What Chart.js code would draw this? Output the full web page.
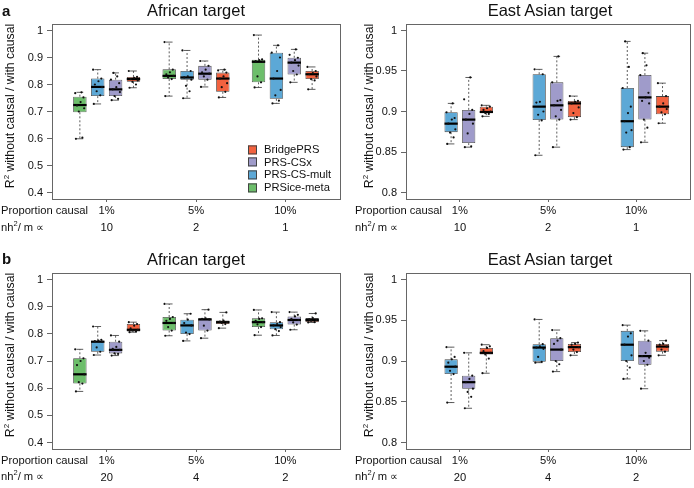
<!DOCTYPE html>
<html>
<head>
<meta charset="utf-8">
<script src="https://cdn.jsdelivr.net/npm/chart.js@4.4.1/dist/chart.umd.min.js"></script>
<style>
  body { margin: 0; background: #fff; font-family: "Liberation Sans", Arial, sans-serif; color: #111; }
  #fig { position: relative; width: 694px; height: 488px; overflow: hidden; }
  .pane { position: absolute; }
  .txt { position: absolute; white-space: nowrap; line-height: 1; }
  .mid { transform: translate(-50%, -50%); }
  .lft { transform: translateY(-50%); }
  .rot { transform: translate(-50%, -50%) rotate(-90deg); font-size: 12.2px; }
  .rot sup { font-size: 8px; vertical-align: 5px; line-height: 0; }
  .title { font-size: 16.5px; }
  .tag { font-size: 15px; font-weight: bold; }
  .row { font-size: 11.2px; }
  .row sup { font-size: 7.5px; vertical-align: 5px; line-height: 0; }
  .key { position: absolute; font-size: 11.2px; line-height: 1; white-space: nowrap; transform: translateY(-50%); }
  .key i { display: inline-block; width: 7px; height: 7px; border: 0.8px solid #444; margin-right: 7px; vertical-align: -0.5px; }
</style>
</head>
<body>
<div id="fig">
  <div class="pane" style="left:0;top:0"><canvas id="aAfr" width="345" height="240"></canvas></div>
  <div class="pane" style="left:345px;top:0"><canvas id="aEas" width="349" height="240"></canvas></div>
  <div class="pane" style="left:0;top:240px"><canvas id="bAfr" width="345" height="248"></canvas></div>
  <div class="pane" style="left:345px;top:240px"><canvas id="bEas" width="349" height="248"></canvas></div>

  <div class="txt tag lft" style="left:2px;top:10px">a</div>
  <div class="txt tag lft" style="left:2px;top:258px">b</div>
  <div class="txt title mid" style="left:196px;top:10px">African target</div>
  <div class="txt title mid" style="left:550px;top:10px">East Asian target</div>
  <div class="txt title mid" style="left:196px;top:259px">African target</div>
  <div class="txt title mid" style="left:550px;top:259px">East Asian target</div>

  <div class="txt rot" style="left:10px;top:106px">R<sup>2</sup> without causal / with causal</div>
  <div class="txt rot" style="left:369px;top:106px">R<sup>2</sup> without causal / with causal</div>
  <div class="txt rot" style="left:10px;top:355px">R<sup>2</sup> without causal / with causal</div>
  <div class="txt rot" style="left:369px;top:355px">R<sup>2</sup> without causal / with causal</div>

  <div class="txt row lft" style="left:1px;top:211px">Proportion causal</div>
  <div class="txt row lft" style="left:1px;top:228px">nh<sup>2</sup>/ m ∝</div>
  <div class="txt row lft" style="left:355px;top:211px">Proportion causal</div>
  <div class="txt row lft" style="left:355px;top:228px">nh<sup>2</sup>/ m ∝</div>
  <div class="txt row lft" style="left:1px;top:461px">Proportion causal</div>
  <div class="txt row lft" style="left:1px;top:477px">nh<sup>2</sup>/ m ∝</div>
  <div class="txt row lft" style="left:355px;top:461px">Proportion causal</div>
  <div class="txt row lft" style="left:355px;top:477px">nh<sup>2</sup>/ m ∝</div>

  <div id="legend"></div>
</div>

<script>
const methods = ['PRSice-meta', 'PRS-CS-mult', 'PRS-CSx', 'BridgePRS'];
const methodColors = ['#6dbe6b', '#5ca8d6', '#9f9bca', '#f2623f'];
const causalLabels = ['1%', '5%', '10%'];
const nhA = ['10', '2', '1'];
const nhB = ['20', '4', '2'];
const groupStart = [0, 5, 10];
const groupCentre = [2.5, 7.5, 12.5];
const afrTicks = [0.4, 0.5, 0.6, 0.7, 0.8, 0.9, 1];
const easTicks = [0.8, 0.85, 0.9, 0.95, 1];
const jitter = [-0.22, 0.14, -0.06, 0.24, -0.16, 0.04, 0.2, -0.26, 0.09, -0.12];

// box stats per method, per causal proportion: [lower whisker, q1, median, q3, upper whisker]
const aAfrStats = [
  [[0.599, 0.697, 0.724, 0.755, 0.771], [0.757, 0.820, 0.832, 0.856, 0.957], [0.789, 0.808, 0.884, 0.892, 0.983]],
  [[0.728, 0.757, 0.791, 0.822, 0.855], [0.749, 0.818, 0.826, 0.850, 0.926], [0.730, 0.747, 0.822, 0.918, 0.945]],
  [[0.742, 0.757, 0.782, 0.818, 0.843], [0.791, 0.818, 0.840, 0.869, 0.887], [0.808, 0.837, 0.881, 0.899, 0.930]],
  [[0.788, 0.810, 0.820, 0.828, 0.850], [0.752, 0.773, 0.822, 0.844, 0.855], [0.782, 0.820, 0.838, 0.850, 0.865]]
];
const aEasStats = [
  [[0.860, 0.8745, 0.885, 0.899, 0.910], [0.846, 0.8896, 0.906, 0.946, 0.952], [0.853, 0.856, 0.888, 0.929, 0.9865]],
  [[0.856, 0.861, 0.890, 0.902, 0.942], [0.856, 0.890, 0.9076, 0.936, 0.968], [0.862, 0.890, 0.9174, 0.945, 0.972]],
  [[0.894, 0.898, 0.8994, 0.906, 0.9076], [0.890, 0.893, 0.910, 0.913, 0.919], [0.8855, 0.8966, 0.906, 0.919, 0.935]]
];
const bAfrStats = [
  [[0.588, 0.617, 0.651, 0.710, 0.743], [0.793, 0.812, 0.840, 0.862, 0.910], [0.795, 0.825, 0.843, 0.857, 0.888]],
  [[0.722, 0.734, 0.771, 0.775, 0.827], [0.774, 0.799, 0.831, 0.852, 0.874], [0.794, 0.817, 0.831, 0.843, 0.880]],
  [[0.720, 0.728, 0.741, 0.771, 0.794], [0.784, 0.812, 0.853, 0.857, 0.889], [0.815, 0.834, 0.851, 0.864, 0.880]],
  [[0.806, 0.809, 0.815, 0.836, 0.843], [0.821, 0.836, 0.843, 0.849, 0.879], [0.842, 0.843, 0.851, 0.858, 0.875]]
];
const bEasStats = [
  [[0.849, 0.884, 0.893, 0.902, 0.917], [0.898, 0.899, 0.9165, 0.9206, 0.951], [0.878, 0.900, 0.920, 0.937, 0.944]],
  [[0.842, 0.866, 0.874, 0.882, 0.910], [0.887, 0.900, 0.914, 0.928, 0.938], [0.866, 0.8954, 0.906, 0.925, 0.937]],
  [[0.885, 0.908, 0.910, 0.916, 0.920], [0.907, 0.911, 0.917, 0.921, 0.9226], [0.907, 0.9115, 0.9177, 0.921, 0.925]]
];

// individual replicate values (jittered dots)
const aAfrPoints = [
  [[0.599, 0.603, 0.700, 0.712, 0.722, 0.735, 0.752, 0.768, 0.771], [0.757, 0.820, 0.826, 0.832, 0.838, 0.845, 0.855, 0.957], [0.789, 0.808, 0.830, 0.884, 0.887, 0.890, 0.893, 0.983]],
  [[0.728, 0.760, 0.775, 0.790, 0.800, 0.812, 0.822, 0.855], [0.749, 0.775, 0.795, 0.818, 0.826, 0.830, 0.850, 0.926], [0.730, 0.740, 0.760, 0.780, 0.822, 0.850, 0.900, 0.918, 0.945]],
  [[0.742, 0.747, 0.757, 0.772, 0.782, 0.790, 0.805, 0.818, 0.830, 0.843], [0.791, 0.818, 0.830, 0.840, 0.845, 0.855, 0.869, 0.887], [0.808, 0.837, 0.850, 0.870, 0.881, 0.890, 0.899, 0.910, 0.930]],
  [[0.788, 0.800, 0.810, 0.815, 0.820, 0.825, 0.828, 0.850], [0.752, 0.773, 0.790, 0.805, 0.822, 0.830, 0.844, 0.852, 0.855], [0.782, 0.815, 0.820, 0.830, 0.838, 0.842, 0.850, 0.865]]
];
const aEasPoints = [
  [[0.860, 0.868, 0.874, 0.878, 0.885, 0.890, 0.892, 0.899, 0.910], [0.846, 0.889, 0.896, 0.900, 0.911, 0.912, 0.946, 0.952], [0.853, 0.856, 0.874, 0.877, 0.888, 0.898, 0.906, 0.929, 0.955, 0.9865]],
  [[0.856, 0.857, 0.873, 0.885, 0.890, 0.897, 0.902, 0.915, 0.942], [0.856, 0.890, 0.894, 0.902, 0.9076, 0.913, 0.914, 0.936, 0.968], [0.862, 0.880, 0.890, 0.910, 0.913, 0.9174, 0.923, 0.945, 0.957, 0.972]],
  [[0.894, 0.897, 0.898, 0.900, 0.902, 0.904, 0.906, 0.9076], [0.890, 0.893, 0.898, 0.905, 0.910, 0.912, 0.913, 0.919], [0.8855, 0.8966, 0.899, 0.903, 0.906, 0.910, 0.919, 0.935]]
];
const bAfrPoints = [
  [[0.588, 0.617, 0.622, 0.651, 0.685, 0.700, 0.710, 0.743], [0.793, 0.812, 0.825, 0.840, 0.848, 0.855, 0.862, 0.910], [0.795, 0.825, 0.835, 0.843, 0.848, 0.855, 0.857, 0.888]],
  [[0.722, 0.734, 0.750, 0.771, 0.773, 0.775, 0.778, 0.827], [0.774, 0.799, 0.805, 0.831, 0.840, 0.852, 0.874], [0.794, 0.810, 0.817, 0.825, 0.831, 0.836, 0.843, 0.880]],
  [[0.720, 0.726, 0.728, 0.741, 0.745, 0.752, 0.771, 0.794], [0.784, 0.812, 0.830, 0.853, 0.855, 0.857, 0.889], [0.815, 0.834, 0.842, 0.851, 0.855, 0.864, 0.870, 0.880]],
  [[0.806, 0.809, 0.812, 0.815, 0.820, 0.830, 0.836, 0.843], [0.821, 0.836, 0.840, 0.843, 0.845, 0.849, 0.879], [0.842, 0.843, 0.848, 0.851, 0.853, 0.858, 0.875]]
];
const bEasPoints = [
  [[0.849, 0.884, 0.888, 0.893, 0.898, 0.902, 0.905, 0.917], [0.898, 0.899, 0.905, 0.915, 0.9165, 0.918, 0.9206, 0.951], [0.878, 0.892, 0.900, 0.907, 0.920, 0.930, 0.934, 0.944]],
  [[0.842, 0.856, 0.862, 0.866, 0.874, 0.878, 0.882, 0.910], [0.887, 0.896, 0.900, 0.914, 0.921, 0.925, 0.928, 0.938], [0.866, 0.8954, 0.900, 0.904, 0.906, 0.910, 0.925, 0.937]],
  [[0.885, 0.903, 0.908, 0.910, 0.912, 0.916, 0.918, 0.920], [0.907, 0.911, 0.914, 0.917, 0.920, 0.921, 0.9226], [0.907, 0.9115, 0.914, 0.9177, 0.920, 0.921, 0.925]]
];

const FONT = '"Liberation Sans", Arial, sans-serif';

// frame round the plotting region, like R's box()
const frame = {
  id: 'frame',
  beforeDatasetsDraw(chart) {
    const a = chart.chartArea, ctx = chart.ctx;
    ctx.save();
    ctx.strokeStyle = '#666';
    ctx.lineWidth = 1;
    ctx.strokeRect(Math.round(a.left) + 0.5, Math.round(a.top) + 0.5, Math.round(a.width), Math.round(a.height));
    ctx.restore();
  }
};

// whiskers, staples and medians on top of each floating bar
const boxWhiskers = {
  id: 'boxWhiskers',
  afterDatasetDraw(chart, args) {
    const ds = chart.data.datasets[args.index];
    if (!ds.stats) return;
    const ctx = chart.ctx, y = chart.scales.y;
    ctx.save();
    args.meta.data.forEach((bar, i) => {
      const [lo, q1, med, q3, hi] = ds.stats[i];
      const cx = bar.x, half = bar.width / 2;
      ctx.strokeStyle = '#333';
      ctx.lineWidth = 0.8;
      ctx.setLineDash([2, 2]);
      ctx.beginPath();
      ctx.moveTo(cx, y.getPixelForValue(q3)); ctx.lineTo(cx, y.getPixelForValue(hi));
      ctx.moveTo(cx, y.getPixelForValue(q1)); ctx.lineTo(cx, y.getPixelForValue(lo));
      ctx.stroke();
      ctx.setLineDash([]);
      ctx.beginPath();
      [lo, hi].forEach(v => {
        const py = y.getPixelForValue(v);
        ctx.moveTo(cx - half / 2, py); ctx.lineTo(cx + half / 2, py);
      });
      ctx.stroke();
      ctx.strokeStyle = '#000';
      ctx.lineWidth = 2.2;
      ctx.beginPath();
      const pm = y.getPixelForValue(med);
      ctx.moveTo(cx - half, pm); ctx.lineTo(cx + half, pm);
      ctx.stroke();
    });
    ctx.restore();
  }
};

function drawPanel(id, cfg) {
  const datasets = [];
  cfg.methodIdx.forEach((m, k) => {
    datasets.push({
      type: 'bar',
      label: methods[m],
      order: 1,
      data: cfg.stats[k].map((s, g) => ({ x: groupStart[g] + m + 1, y: [s[1], s[3]] })),
      stats: cfg.stats[k],
      backgroundColor: methodColors[m],
      borderColor: '#444',
      borderWidth: 0.8,
      borderSkipped: false,
      grouped: false,
      barPercentage: 0.75,
      categoryPercentage: 1
    });
  });
  const pts = [];
  cfg.methodIdx.forEach((m, k) => {
    cfg.points[k].forEach((vals, g) => {
      vals.forEach((v, j) => pts.push({ x: groupStart[g] + m + 1 + jitter[j % jitter.length], y: v }));
    });
  });
  datasets.push({
    type: 'scatter', order: 0, data: pts,
    pointRadius: 1.1, pointBackgroundColor: '#111', pointBorderWidth: 0
  });

  new Chart(document.getElementById(id), {
    data: { datasets },
    plugins: [frame, boxWhiskers],
    options: {
      responsive: false,
      animation: false,
      devicePixelRatio: 1,
      layout: { padding: { top: cfg.padTop, right: cfg.padRight, left: cfg.padLeft, bottom: 0 } },
      plugins: { legend: { display: false }, tooltip: { enabled: false } },
      scales: {
        x: {
          type: 'linear', min: -0.56, max: 15.56, offset: false,
          border: { display: false },
          grid: { offset: false, drawOnChartArea: false, drawTicks: true, tickLength: 3, color: '#666' },
          afterBuildTicks: s => { s.ticks = groupCentre.map(v => ({ value: v })); },
          ticks: {
            autoSkip: false, maxRotation: 0, padding: 0, color: '#111',
            font: { family: FONT, size: 11.2, lineHeight: '17px' },
            callback: (v, i) => [causalLabels[i], cfg.nh[i]]
          },
          afterFit: s => { s.height = cfg.xH; }
        },
        y: {
          min: cfg.yMin, max: cfg.yMax, stacked: false,
          border: { display: false },
          grid: { drawOnChartArea: false, drawTicks: true, tickLength: 5, color: '#666' },
          afterBuildTicks: s => { s.ticks = cfg.yTicks.map(v => ({ value: v })); },
          ticks: { padding: 4, color: '#111', font: { family: FONT, size: 11 }, callback: v => String(v) },
          afterFit: s => { s.width = cfg.yW; }
        }
      }
    }
  });
}

drawPanel('aAfr', { methodIdx: [0, 1, 2, 3], stats: aAfrStats, points: aAfrPoints, nh: nhA,
  yMin: 0.376, yMax: 1.024, yTicks: afrTicks, padTop: 24, padRight: 5, padLeft: 0, yW: 52, xH: 41 });
drawPanel('aEas', { methodIdx: [1, 2, 3], stats: aEasStats, points: aEasPoints, nh: nhA,
  yMin: 0.792, yMax: 1.008, yTicks: easTicks, padTop: 24, padRight: 1, padLeft: 14, yW: 47, xH: 41 });
drawPanel('bAfr', { methodIdx: [0, 1, 2, 3], stats: bAfrStats, points: bAfrPoints, nh: nhB,
  yMin: 0.376, yMax: 1.024, yTicks: afrTicks, padTop: 33, padRight: 5, padLeft: 0, yW: 52, xH: 39 });
drawPanel('bEas', { methodIdx: [1, 2, 3], stats: bEasStats, points: bEasPoints, nh: nhB,
  yMin: 0.792, yMax: 1.008, yTicks: easTicks, padTop: 33, padRight: 1, padLeft: 14, yW: 47, xH: 39 });

// legend inside panel a (African), listed top to bottom in reverse order
const legend = document.getElementById('legend');
methods.slice().reverse().forEach((name, i) => {
  const el = document.createElement('div');
  el.className = 'key';
  el.style.left = '248px';
  el.style.top = (150 + i * 12.7) + 'px';
  el.innerHTML = '<i style="background:' + methodColors[methods.length - 1 - i] + '"></i>' + name;
  legend.appendChild(el);
});
</script>
</body>
</html>
